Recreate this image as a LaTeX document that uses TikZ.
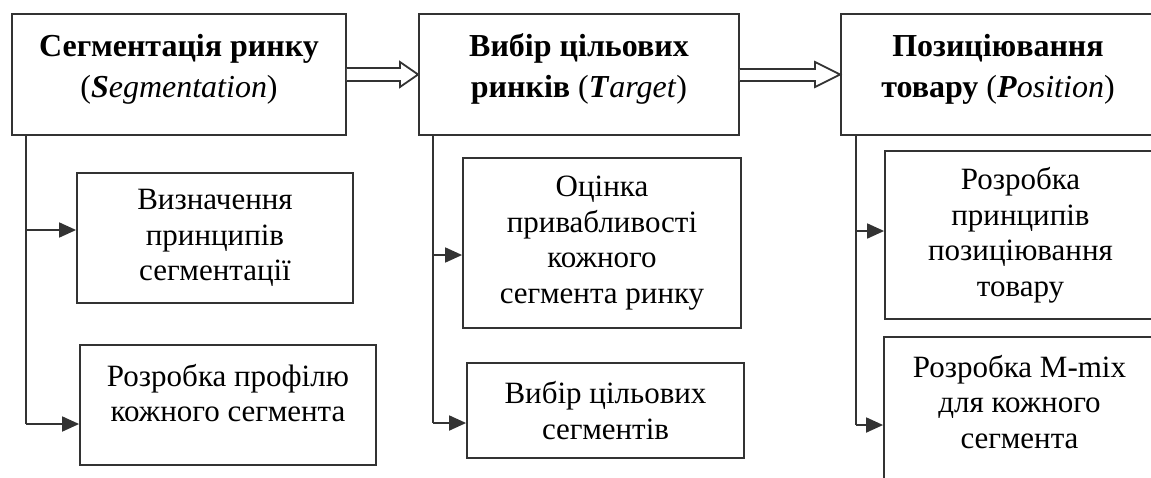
\documentclass[tikz,border=0pt]{standalone}
\usepackage{fontspec}
\setmainfont{Liberation Serif}
\usetikzlibrary{arrows.meta}
\definecolor{ln}{HTML}{333333}
\tikzset{
  box/.style={draw=ln, line width=1.8pt, rectangle, inner sep=0pt, align=center, text=black, font=\fontsize{31}{35.5}\selectfont},
  head/.style={box, font=\fontsize{32}{41}\selectfont},
  trunk/.style={draw=ln, line width=1.8pt},
  br/.style={draw=ln, line width=1.8pt, -{Triangle[length=17pt,width=15pt]}},
  dbl/.style={draw=ln, line width=1.8pt, fill=white, line join=miter}
}
\begin{document}
\begin{tikzpicture}[x=1pt,y=-1pt]
\useasboundingbox (0,0) rectangle (1151,477);
\clip (0,0) rectangle (1151,477);
% headers
\node[head, minimum width=334pt, minimum height=121pt] (S) at (179,74.5)
  {\textbf{Сегментація ринку}\\(\textbf{\textit{S}}\textit{egmentation})\\[-24pt]\mbox{}};
\node[head, minimum width=320pt, minimum height=121pt] (T) at (579,74.5)
  {\textbf{Вибір цільових}\\\textbf{ринків} (\textbf{\textit{T}}\textit{arget})\\[-24pt]\mbox{}};
\node[head, minimum width=314pt, minimum height=121pt] (P) at (998,74.5)
  {\textbf{Позиціювання}\\\textbf{товару} (\textbf{\textit{P}}\textit{osition})\\[-24pt]\mbox{}};
% sub boxes
\node[box, minimum width=276pt, minimum height=130pt] (b11) at (215,238)
  {Визначення\\принципів\\сегментації};
\node[box, minimum width=296pt, minimum height=120pt] (b12) at (228,405)
  {Розробка профілю\\кожного сегмента\\[-11.5pt]\mbox{}};
\node[box, minimum width=278pt, minimum height=170pt] (b21) at (602,243)
  {Оцінка\\привабливості\\кожного\\сегмента ринку};
\node[box, minimum width=277pt, minimum height=95pt] (b22) at (605.5,410.5)
  {Вибір цільових\\сегментів};
\node[box, minimum width=271pt, minimum height=168pt] (b31) at (1020.5,235)
  {Розробка\\принципів\\позиціювання\\товару};
\node[box, minimum width=271pt, minimum height=143pt] (b32) at (1019.5,408.5)
  {Розробка M-mix\\для кожного\\сегмента\\[-21.5pt]\mbox{}};
% double arrows
\draw[dbl] (S.east |- 0,68) -- (400,68) -- (400,62) -- (T.west) -- (400,87) -- (400,81) -- (S.east |- 0,81);
\draw[dbl] (T.east |- 0,69) -- (815,69) -- (815,62) -- (P.west) -- (815,87) -- (815,81) -- (T.east |- 0,81);
% trunks
\coordinate (c1a) at (26,230);
\coordinate (c1b) at (26,424);
\coordinate (c2a) at (433,255);
\coordinate (c2b) at (433,423);
\coordinate (c3a) at (856,231);
\coordinate (c3b) at (856,425);
\draw[trunk] (S.south -| c1a) -- (c1b);
\draw[trunk] (T.south -| c2a) -- (c2b);
\draw[trunk] (P.south -| c3a) -- (c3b);
\draw[br] (c1a) -- (c1a -| b11.west);
\draw[br] (c1b) -- (c1b -| b12.west);
\draw[br] (c2a) -- (c2a -| b21.west);
\draw[br] (c2b) -- (c2b -| b22.west);
\draw[br] (c3a) -- (c3a -| b31.west);
\draw[br] (c3b) -- (c3b -| b32.west);
\end{tikzpicture}
\end{document}
